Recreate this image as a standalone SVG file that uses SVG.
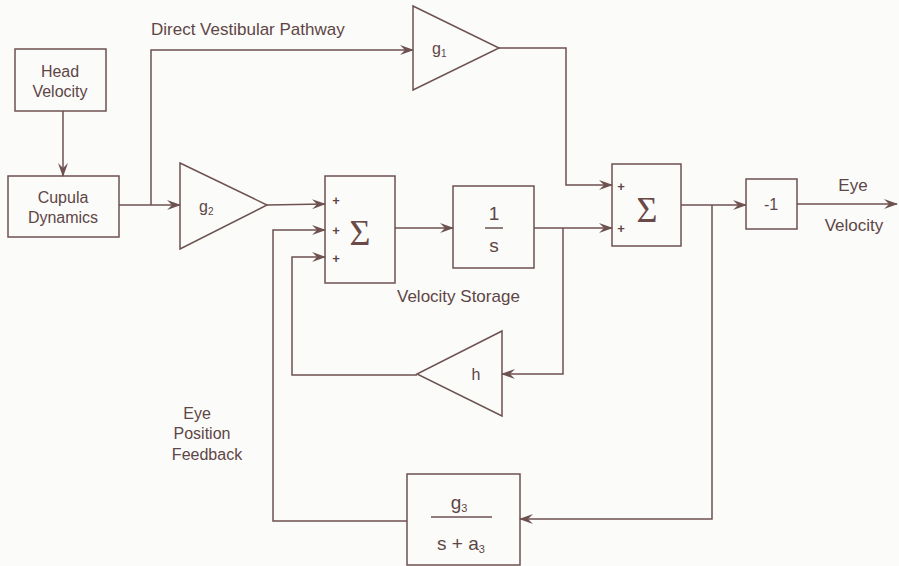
<svg xmlns="http://www.w3.org/2000/svg" width="899" height="566" viewBox="0 0 899 566">
<defs>
<style>
.bx{fill:none;stroke:#6e5250;stroke-width:1.5}
.ln{fill:none;stroke:#6e5250;stroke-width:1.5;marker-end:url(#ah)}
.ln2{fill:none;stroke:#6e5250;stroke-width:1.5}
text{font-family:"Liberation Sans",Arial,sans-serif;fill:#5e4646;font-size:16px}
.c{text-anchor:middle}
.lb{font-size:17px}
.sig{font-family:"Liberation Serif","Times New Roman",serif;font-size:36px;fill:#6a4a48}
.pl{font-size:13px;font-weight:bold;fill:#5e4646}
.sub{font-size:10px}
</style>
<marker id="ah" viewBox="0 0 14 10" refX="13" refY="5" markerWidth="14" markerHeight="10" markerUnits="userSpaceOnUse" orient="auto">
<path d="M0,0 L14,5 L0,10 L5,5 z" fill="#6e5250"/>
</marker>
</defs>
<rect width="899" height="566" fill="#fbfbf9"/>

<g id="connectors">
<path class="ln" d="M63,111 L63,176"/>
<path class="ln" d="M119,205 L180,205"/>
<path class="ln" d="M151,205 L151,50 L413,50"/>
<path class="ln" d="M267,205 L325,204"/>
<path class="ln" d="M395,228 L453,228"/>
<path class="ln" d="M534,228 L612,228"/>
<path class="ln" d="M499,48 L566,48 L566,185 L612,185"/>
<path class="ln" d="M563,228 L563,374 L502,374"/>
<path class="ln" d="M417,375 L292,375 L292,257 L325,257"/>
<path class="ln" d="M681,205 L746,205"/>
<path class="ln" d="M797,204 L897,204"/>
<path class="ln" d="M712,205 L712,519 L520,519"/>
<path class="ln" d="M407,521 L273,521 L273,230 L325,230"/>
</g>

<g id="head-velocity">
<rect class="bx" x="15" y="49" width="91" height="62"/>
<text class="c" x="60" y="77">Head</text>
<text class="c" x="60" y="97">Velocity</text>
</g>

<g id="cupula-dynamics">
<rect class="bx" x="8" y="176" width="111" height="61"/>
<text class="c" x="63" y="203">Cupula</text>
<text class="c" x="63" y="223">Dynamics</text>
</g>

<g id="g1">
<polygon class="bx" points="413,6 499,48 413,90"/>
<text x="432" y="54">g<tspan class="sub" dy="3">1</tspan></text>
</g>

<g id="g2">
<polygon class="bx" points="180,163 267,205 180,249"/>
<text x="199" y="212">g<tspan class="sub" dy="3">2</tspan></text>
</g>

<g id="sum1">
<rect class="bx" x="325" y="176" width="70" height="107"/>
<text class="pl c" x="336" y="205">+</text>
<text class="pl c" x="336" y="235">+</text>
<text class="pl c" x="336" y="263">+</text>
<text class="sig c" x="360" y="245">Σ</text>
</g>

<g id="integrator">
<rect class="bx" x="453" y="186" width="81" height="82"/>
<text class="c" x="494" y="220" style="font-size:19px">1</text>
<line class="ln2" x1="485" y1="228" x2="503" y2="228"/>
<text class="c" x="494" y="252" style="font-size:19px">s</text>
</g>

<g id="velocity-storage-label">
<text class="lb" x="397" y="302">Velocity Storage</text>
</g>

<g id="h">
<polygon class="bx" points="502,331 417,374 502,416"/>
<text class="c" x="476" y="380">h</text>
</g>

<g id="sum2">
<rect class="bx" x="612" y="164" width="69" height="82"/>
<text class="pl c" x="621" y="191">+</text>
<text class="pl c" x="621" y="233">+</text>
<text class="sig c" x="647" y="222">Σ</text>
</g>

<g id="neg1">
<rect class="bx" x="746" y="179" width="51" height="50"/>
<text class="c" x="771" y="210">-1</text>
</g>

<g id="eye-velocity-label">
<text class="c lb" x="853" y="191">Eye</text>
<text class="c lb" x="854" y="231">Velocity</text>
</g>

<g id="g3">
<rect class="bx" x="407" y="474" width="113" height="91"/>
<text class="c" x="459" y="509" style="font-size:19px">g<tspan style="font-size:11px" dy="3">3</tspan></text>
<line class="ln2" x1="431" y1="517" x2="492" y2="517"/>
<text class="c" x="461" y="550" style="font-size:19px">s + a<tspan style="font-size:11px" dy="3">3</tspan></text>
</g>

<g id="direct-label">
<text class="lb" x="151" y="35">Direct Vestibular Pathway</text>
</g>

<g id="eye-position-feedback-label">
<text class="c" x="197" y="419">Eye</text>
<text class="c" x="202" y="439">Position</text>
<text class="c" x="207" y="460">Feedback</text>
</g>
</svg>
